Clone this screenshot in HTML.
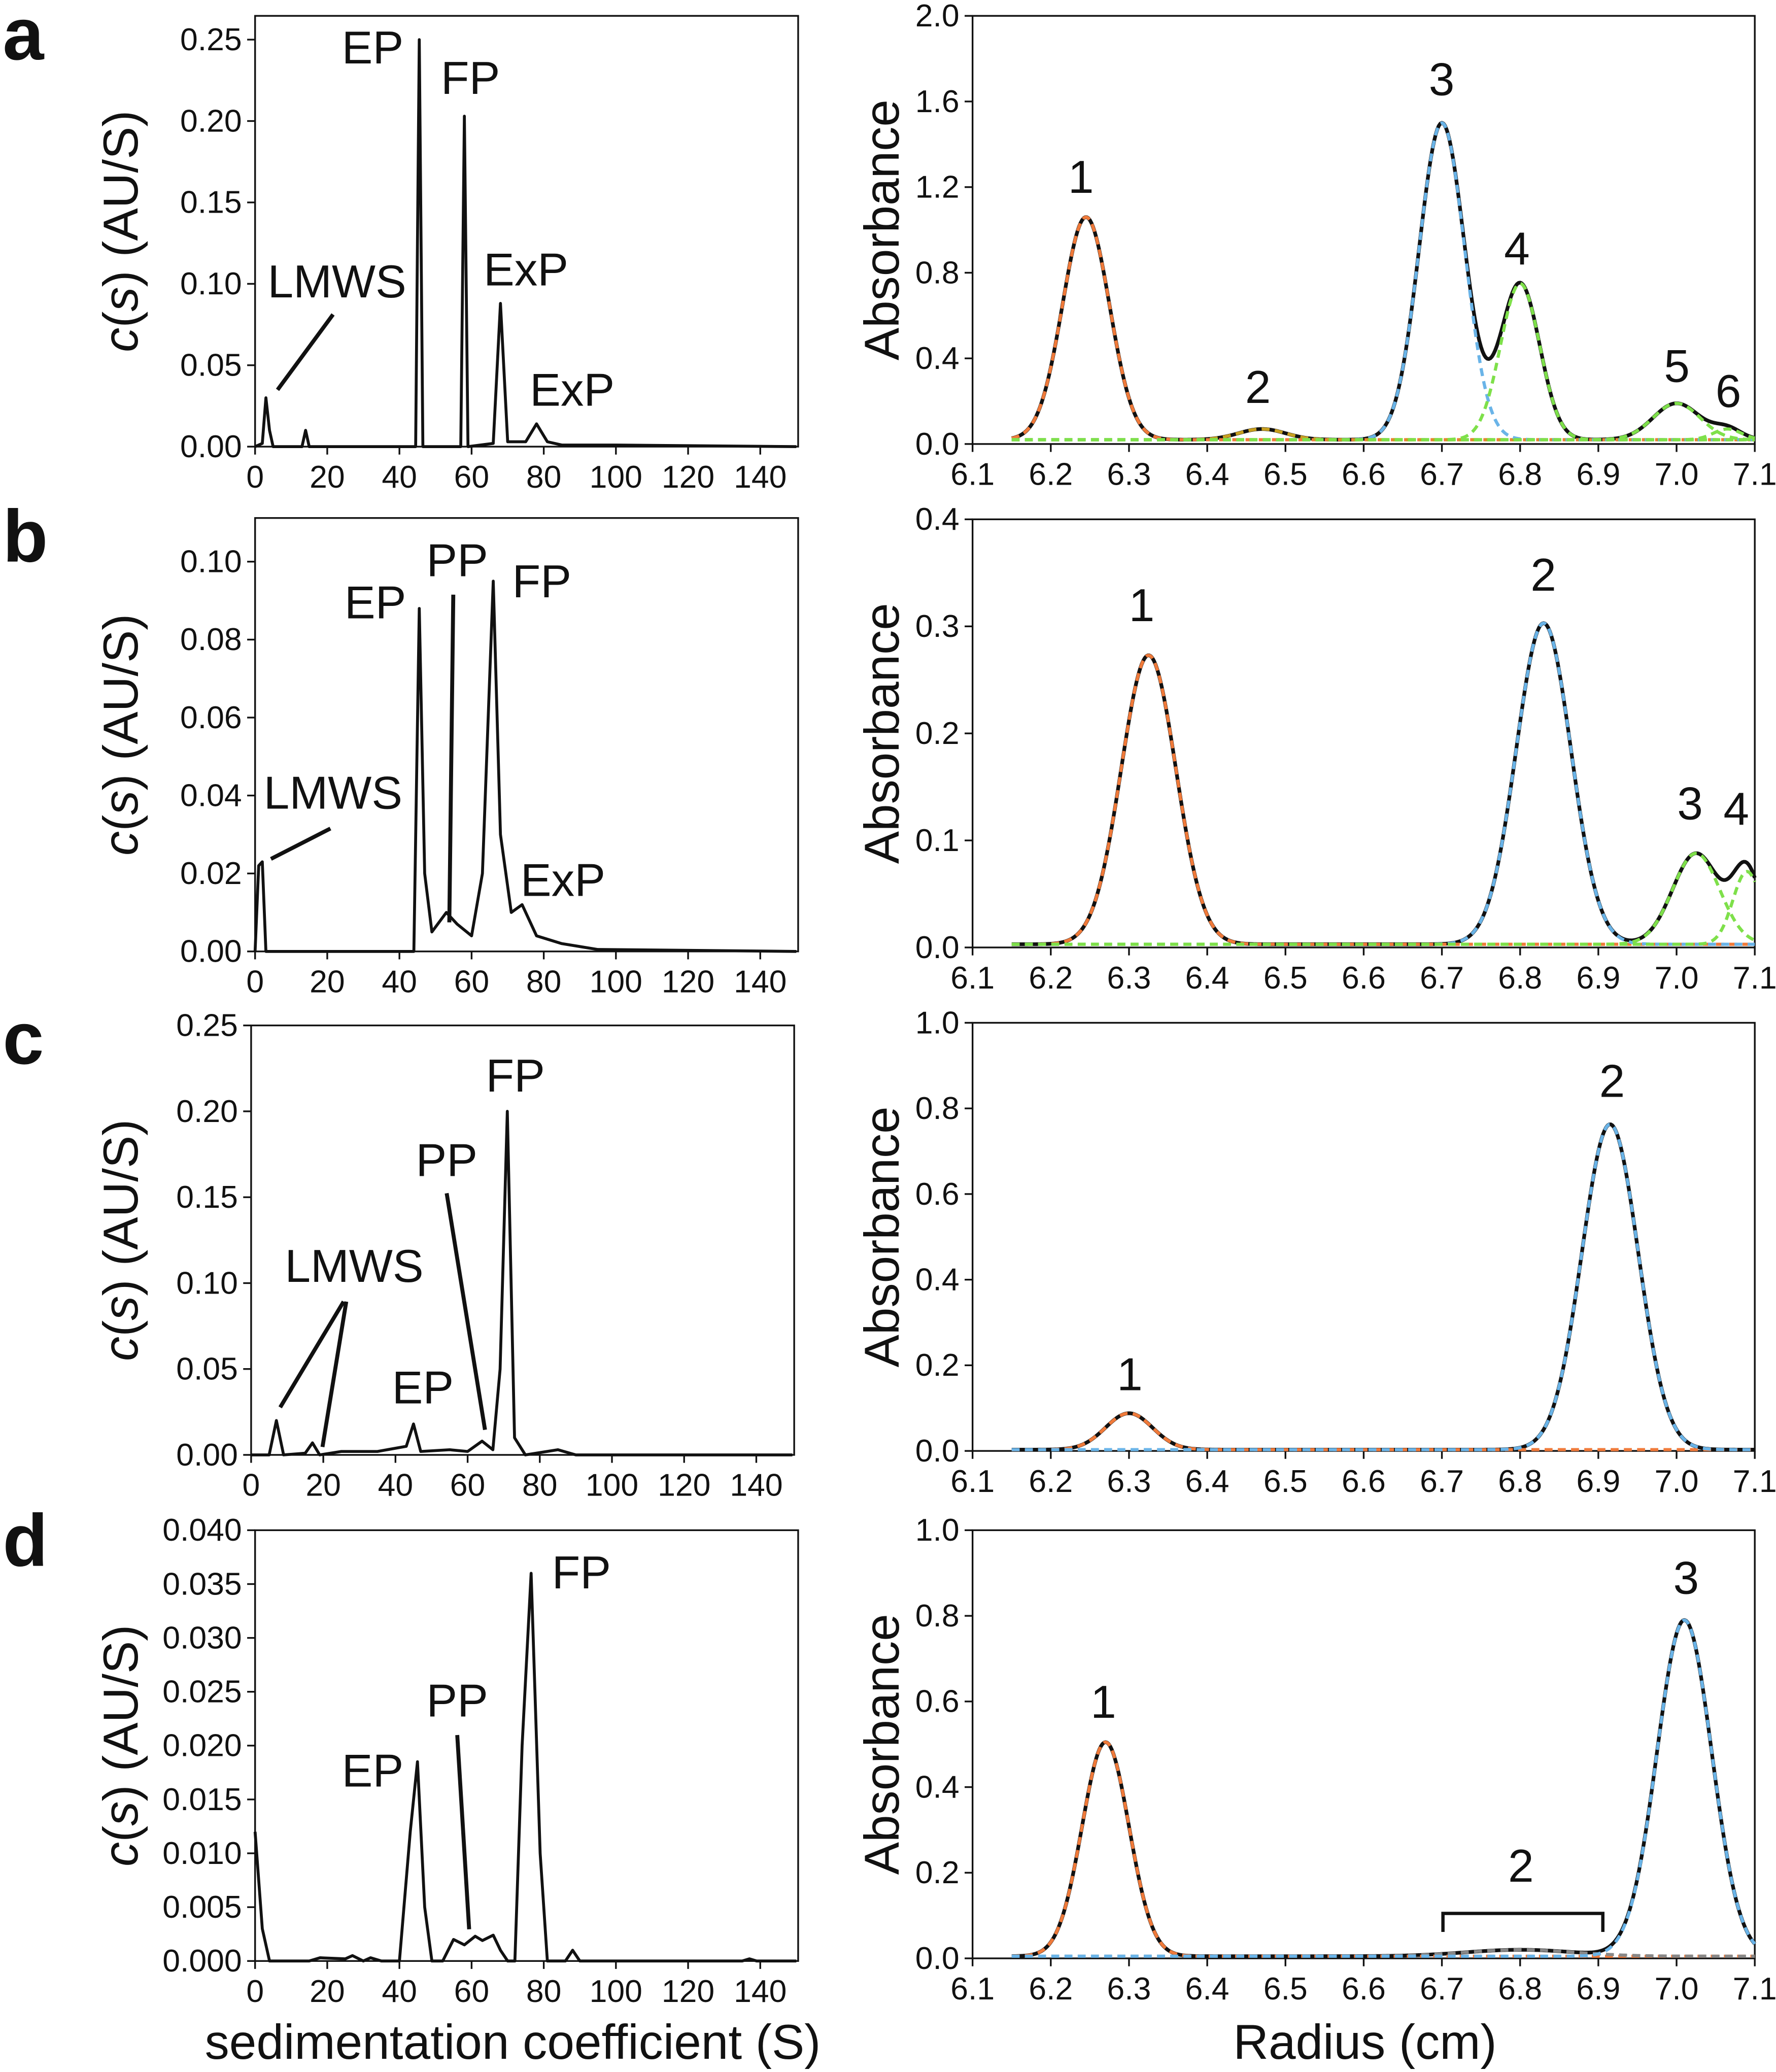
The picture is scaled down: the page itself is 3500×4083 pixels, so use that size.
<!DOCTYPE html>
<html><head><meta charset="utf-8"><style>
html,body{margin:0;padding:0;background:#fff}
svg{display:block}
text{font-family:"Liberation Sans",Arial,sans-serif;fill:#111}
</style></head><body>
<svg id="fig" width="3500" height="4083" viewBox="0 0 1344 1568" xmlns="http://www.w3.org/2000/svg"></svg>
<script>
// ---- Left panels: c(s) distributions (s, c) samples ----
const sA = [0,2,3,4,5,13,14,15,44.5,45.5,46.5,57,58,59,66,68,70,75,78,81,85,100,150];
const cA = [0,0.002,0.03,0.01,0,0,0.01,0,0,0.25,0,0,0.203,0,0.002,0.088,0.003,0.003,0.014,0.003,0.001,0.001,0];
const sB = [0,1,2,3,44,45.5,47,49,53,56,60,63,66,68,71,74,78,85,95,150];
const cB = [0,0.022,0.023,0,0,0.088,0.02,0.005,0.01,0.007,0.004,0.02,0.095,0.03,0.01,0.012,0.004,0.002,0.0005,0];
const sC = [0,5,7,9,15,17,19,25,35,43,45,47,55,60,64,67,69,71,73,76,85,90,150];
const cC = [0,0,0.02,0,0.001,0.007,0,0.002,0.002,0.005,0.018,0.002,0.003,0.002,0.008,0.003,0.05,0.2,0.01,0,0.003,0,0];
const sD = [0,2,4,15,18,25,27,30,32,35,40,43,45,47,49,52,55,58,61,63,66,68,70,72,74,76.5,79,81,86,88,90,135,137,139,150];
const cD = [0.012,0.003,0,0,0.0003,0.0002,0.0005,0,0.0003,0,0,0.012,0.0185,0.005,0,0,0.002,0.0015,0.0023,0.0019,0.0024,0.001,0,0,0.02,0.036,0.01,0,0,0.001,0,0,0.0002,0,0];
const sTicks = [0,20,40,60,80,100,120,140];
const yTicksA = [0,0.05,0.10,0.15,0.20,0.25];
const yTicksB = [0,0.02,0.04,0.06,0.08,0.10];
const yTicksC = [0,0.05,0.10,0.15,0.20,0.25];
const yTicksD = [0,0.005,0.010,0.015,0.020,0.025,0.030,0.035,0.040];
// ---- Right panels: fitted Gaussian components (center cm, height, sigma) ----
const fitCenA = [6.245,6.47,6.70,6.80,7.00,7.065];
const fitHA = [1.04,0.05,1.48,0.73,0.17,0.05];
const fitSA = [0.03,0.03,0.029,0.025,0.03,0.018];
const fitColA = ['#f07a3a','#c8a020','#6ab4e8','#7ee04a','#7ee04a','#7ee04a'];
const fitCenB = [6.325,6.83,7.025,7.09];
const fitHB = [0.27,0.30,0.085,0.068];
const fitSB = [0.035,0.035,0.03,0.018];
const fitColB = ['#f07a3a','#6ab4e8','#7ee04a','#7ee04a'];
const fitCenC = [6.30,6.915];
const fitHC = [0.085,0.76];
const fitSC = [0.03,0.036];
const fitColC = ['#f07a3a','#6ab4e8'];
const fitCenD = [6.27,6.80,7.01];
const fitHD = [0.50,0.015,0.785];
const fitSD = [0.03,0.07,0.035];
const fitColD = ['#f07a3a','#888888','#6ab4e8'];
const baseA = 0.02, baseB = 0.003, baseC = 0.003, baseD = 0.005;
const rTicks = [6.1,6.2,6.3,6.4,6.5,6.6,6.7,6.8,6.9,7.0,7.1];
const aTicksA = [0,0.4,0.8,1.2,1.6,2.0];
const aTicksB = [0,0.1,0.2,0.3,0.4];
const aTicksC = [0,0.2,0.4,0.6,0.8,1.0];
const aTicksD = [0,0.2,0.4,0.6,0.8,1.0];

const NS='http://www.w3.org/2000/svg';
const svg=document.getElementById('fig');
function el(tag,attrs,parent){const e=document.createElementNS(NS,tag);for(const k in attrs)e.setAttribute(k,attrs[k]);(parent||svg).appendChild(e);return e;}
function txt(x,y,s,size,anchor,parent,extra){const t=el('text',Object.assign({x:x,y:y,'font-size':size,'text-anchor':anchor||'middle'},extra||{}),parent);t.textContent=s;return t;}

function axes(g,x0,x1,y0,y1,xmin,xmax,ymin,ymax,xt,yt,xdec,ydec){
  const sx=v=>x0+(v-xmin)/(xmax-xmin)*(x1-x0);
  const sy=v=>y1-(v-ymin)/(ymax-ymin)*(y1-y0);
  const box=el('rect',{x:x0,y:y0,width:x1-x0,height:y1-y0,fill:'none',stroke:'#111','stroke-width':1.3},g);
  
  
  xt.forEach(v=>{
    const tk=el('line',{x1:sx(v),x2:sx(v),y1:y1,y2:y1+6,stroke:'#111','stroke-width':1.3},g);
    
    
    const lb=txt(sx(v),y1+31,v.toFixed(xdec),24,'middle',g);
    
    
  });
  yt.forEach(v=>{
    const tk=el('line',{x1:x0-6,x2:x0,y1:sy(v),y2:sy(v),stroke:'#111','stroke-width':1.3},g);
    
    
    const lb=txt(x0-10,sy(v)+8,v.toFixed(ydec),24,'end',g);
    
    
  });
  return {sx,sy};
}
function line(g,xs,ys,sx,sy,color,w,dash,name){
  const d=xs.map((x,i)=>(i?'L':'M')+sx(x).toFixed(2)+','+sy(ys[i]).toFixed(2)).join('');
  const p=el('path',{d:d,fill:'none',stroke:color,'stroke-width':w,'stroke-linejoin':'round'},g);
  if(dash)p.setAttribute('stroke-dasharray',dash);
  
  
}
function leftPanel(name,x0,x1,y0,y1,ymax,s,c,yt,ydec){
  const g=el('g',{});
  
  
  const a=axes(g,x0,x1,y0,y1,0,150.5,0,ymax,sTicks,yt,0,ydec);
  line(g,s,c,a.sx,a.sy,'#111',2.2,null,'cs-distribution-line');
  const cy=(y0+y1)/2;
  const t=txt(104,cy,'',37,'middle',g,{transform:'rotate(-90 104 '+cy+')'});
  t.innerHTML='<tspan font-style="italic">c</tspan>(<tspan font-style="italic">s</tspan>) (AU/S)';
  
  
  return g;
}
function rightPanel(name,y0,y1,ymax,cen,h,sg,col,base,yt,ydec){
  const g=el('g',{});
  
  
  const a=axes(g,736,1328,y0,y1,6.1,7.1,0,ymax,rTicks,yt,1,ydec);
  const xs=[];for(let r=6.15;r<=7.1001;r+=0.002)xs.push(r);
  const total=xs.map(r=>base+cen.reduce((acc,c,i)=>acc+h[i]*Math.exp(-0.5*Math.pow((r-c)/sg[i],2)),0));
  line(g,xs,total,a.sx,a.sy,'#111',2.8,null,'absorbance-data-line');
  cen.forEach((c,i)=>{
    const ys=xs.map(r=>base+h[i]*Math.exp(-0.5*Math.pow((r-c)/sg[i],2)));
    line(g,xs,ys,a.sx,a.sy,col[i],2.4,'6 4','fit-component-'+(i+1));
  });
  const cy=(y0+y1)/2;
  const t=txt(680,cy,'Absorbance',37,'middle',g,{transform:'rotate(-90 680 '+cy+')'});
  
  
  return g;
}
function label(x,y,s,size,nm){const t=txt(x,y,s,size||34,'middle');}
function lead(x1,y1,x2,y2,nm){const l=el('line',{x1,y1,x2,y2,stroke:'#111','stroke-width':3});}

leftPanel('panel-a-left',193,604,12,338,0.2646,sA,cA,yTicksA,2);
leftPanel('panel-b-left',193,604,392,720,0.1112,sB,cB,yTicksB,2);
leftPanel('panel-c-left',190,601,776,1101,0.25,sC,cC,yTicksC,2);
leftPanel('panel-d-left',193,604,1158,1484,0.040,sD,cD,yTicksD,3);
rightPanel('panel-a-right',12,336,2.0,fitCenA,fitHA,fitSA,fitColA,baseA,aTicksA,1);
rightPanel('panel-b-right',393,717,0.4,fitCenB,fitHB,fitSB,fitColB,baseB,aTicksB,1);
rightPanel('panel-c-right',774,1098,1.0,fitCenC,fitHC,fitSC,fitColC,baseC,aTicksC,1);
rightPanel('panel-d-right',1158,1482,1.0,fitCenD,fitHD,fitSD,fitColD,baseD,aTicksD,1);

[['a',40],['b',420],['c',800],['d',1180]].forEach(p=>{const t=txt(2,p[1]+5,p[0],56,'start',svg,{'font-weight':'bold'});});
label(282,48,'EP',35,'label-ep');label(356,71,'FP',35,'label-fp');label(255,225,'LMWS',35,'label-lmws');label(398,216,'ExP',35,'label-exp');label(433,307,'ExP',35,'label-exp-2');
lead(210,295,252,238,'leader-lmws');
label(284,468,'EP',35,'label-ep');label(346,436,'PP',35,'label-pp');label(410,452,'FP',35,'label-fp');label(252,612,'LMWS',35,'label-lmws');label(426,678,'ExP',35,'label-exp');
lead(205,650,250,627,'leader-lmws');lead(343,450,340,698,'leader-pp');
label(390,826,'FP',35,'label-fp');label(338,890,'PP',35,'label-pp');label(268,970,'LMWS',35,'label-lmws');label(320,1062,'EP',35,'label-ep');
lead(212,1065,260,985,'leader-lmws-1');lead(244,1095,262,985,'leader-lmws-2');lead(338,903,367,1082,'leader-pp');
label(440,1202,'FP',35,'label-fp');label(346,1299,'PP',35,'label-pp');label(282,1352,'EP',35,'label-ep');
lead(346,1313,355,1460,'leader-pp');
[[818,146,'1'],[952,305,'2'],[1091,72,'3'],[1148,200,'4'],[1269,289,'5'],[1308,308,'6'],
 [864,470,'1'],[1168,447,'2'],[1279,620,'3'],[1314,624,'4'],
 [855,1052,'1'],[1220,830,'2'],
 [835,1300,'1'],[1151,1424,'2'],[1276,1206,'3']].forEach(p=>label(p[0],p[1],p[2],35,'peak-number-'+p[2]));
const br=el('path',{d:'M1092,1462 L1092,1448 L1213,1448 L1213,1462',fill:'none',stroke:'#111','stroke-width':2.5});


label(388,1558,'sedimentation coefficient (S)',37,'x-axis-title-left');
label(1033,1558,'Radius (cm)',37,'x-axis-title-right');
</script>
</body></html>
